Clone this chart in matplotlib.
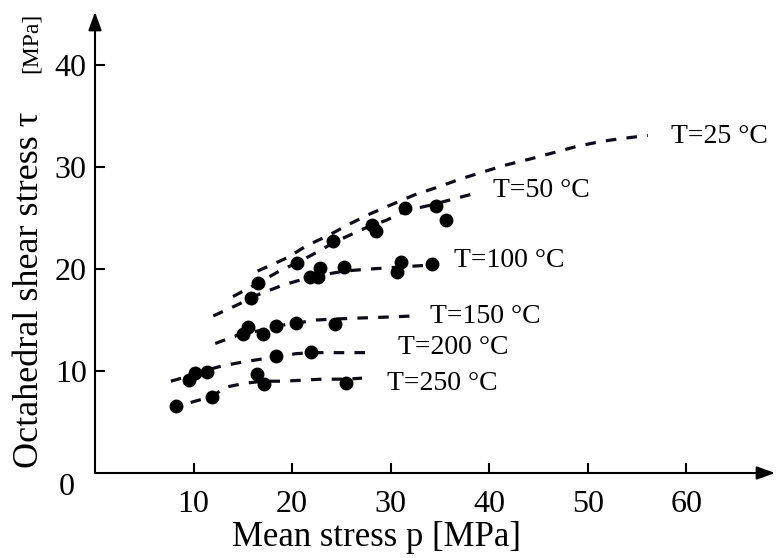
import numpy as np
import matplotlib
matplotlib.use('Agg')
import matplotlib.pyplot as plt

plt.rcParams['font.family'] = ['Liberation Serif', 'DejaVu Serif']

# Courbes en pointillés
x25 = [16.5, 19.5, 21.5, 23.7, 25.8, 27.9, 30.3, 32.5, 35.0, 37.0, 39.3, 41.7, 44.2, 46.5, 48.8, 51.3, 53.5, 56.1]
y25 = [19.8, 21.1, 22.3, 23.3, 24.4, 25.4, 26.4, 27.3, 28.1, 28.8, 29.5, 30.2, 30.8, 31.4, 32.0, 32.5, 32.8, 33.1]
x50 = [14.0, 16.5, 18.9, 20.5, 23.0, 24.2, 27.4, 29.6, 31.5, 34.2, 36.5, 38.9]
y50 = [17.3, 18.6, 19.9, 20.6, 21.9, 22.6, 24.0, 24.8, 25.7, 26.3, 26.9, 27.5]
x100 = [12.0, 14.7, 15.8, 19.0, 21.8, 25.3, 27.9, 31.0, 34.2]
y100 = [15.4, 16.6, 17.2, 18.4, 19.2, 19.8, 20.0, 20.2, 20.4]
x150 = [12.2, 15.0, 17.0, 18.4, 20.4, 22.5, 24.4, 27.0, 30.0, 32.3]
y150 = [12.7, 13.7, 14.0, 14.4, 14.7, 15.0, 15.1, 15.2, 15.3, 15.4]
x200 = [7.7, 9.5, 11.0, 12.9, 15.1, 18.4, 20.4, 22.0, 25.0, 27.6]
y200 = [9.0, 9.5, 10.0, 10.5, 10.9, 11.4, 11.7, 11.8, 11.8, 11.8]
x250 = [7.7, 10.0, 11.9, 13.2, 15.2, 17.1, 19.0, 21.1, 23.0, 25.5, 27.1]
y250 = [6.3, 7.0, 7.5, 8.4, 8.8, 9.0, 9.0, 9.1, 9.2, 9.2, 9.3]

# Points expérimentaux
px50 = [16.5, 20.5, 24.1, 28.1, 28.5, 31.5, 34.6, 35.6]
py50 = [18.6, 20.6, 22.7, 24.3, 23.7, 26.0, 26.2, 24.8]
px100 = [15.8, 21.8, 22.6, 22.8, 25.3, 30.6, 31.0, 34.2]
py100 = [17.2, 19.2, 19.2, 20.1, 20.2, 19.7, 20.7, 20.5]
px150 = [15.0, 15.5, 17.0, 18.4, 20.4, 24.4]
py150 = [13.6, 14.3, 13.6, 14.4, 14.7, 14.6]
px200 = [9.5, 10.1, 11.4, 18.4, 21.9]
py200 = [9.1, 9.8, 9.9, 11.5, 11.9]
px250 = [8.2, 11.9, 16.4, 17.1, 25.5]
py250 = [6.6, 7.5, 9.7, 8.7, 8.8]

labels = ['T=25 °C', 'T=50 °C', 'T=100 °C', 'T=150 °C', 'T=200 °C', 'T=250 °C']
label_pos = [(58.4, 33.0), (40.4, 27.7), (36.4, 20.8), (34.0, 15.3), (30.7, 12.3), (29.6, 8.8)]

xticks = [10, 20, 30, 40, 50, 60]
yticks = [10, 20, 30, 40]

fig = plt.figure(figsize=(7.77, 5.58), dpi=100)
ax = fig.add_axes([95/777, 85/558, 680/777, 461/558])
ax.set_xlim(0, 69.0)
ax.set_ylim(0, 45.2)

line_col = '#0d0d18'
for xs, ys in [(x25, y25), (x50, y50), (x100, y100), (x150, y150), (x200, y200), (x250, y250)]:
    ax.plot(xs, ys, color=line_col, lw=2.3, dashes=(3.3, 3.2), dash_capstyle='butt')

for xs, ys in [(px50, py50), (px100, py100), (px150, py150), (px200, py200), (px250, py250)]:
    ax.plot(xs, ys, 'o', color='black', markersize=9, linestyle='none')

for lab, (lx, ly) in zip(labels, label_pos):
    ax.text(lx, ly, lab, fontsize=20, ha='left', va='center')

# axes avec flèches
for s in ax.spines.values():
    s.set_visible(False)
arrow = dict(arrowstyle='-|>,head_length=0.55,head_width=0.2', color='black', lw=1.5,
             mutation_scale=20, shrinkA=0, shrinkB=0)
ax.annotate('', xy=(1.0, 0), xytext=(0, 0), xycoords='axes fraction', arrowprops=arrow, annotation_clip=False)
ax.annotate('', xy=(0, 1.0), xytext=(0, 0), xycoords='axes fraction', arrowprops=arrow, annotation_clip=False)

ax.set_xticks(xticks)
ax.set_yticks(yticks)
ax.tick_params(direction='in', length=7, width=1.5, labelsize=23)
ax.tick_params(axis='x', pad=12)
ax.tick_params(axis='y', pad=6)
ax.text(-2.9, -1.4, '0', fontsize=23, ha='center', va='center', clip_on=False)

fig.text(0.5 * (232 + 522) / 777, 4 / 558, 'Mean stress p [MPa]', fontsize=25, ha='center', va='bottom')
fig.text(30 / 777, 90 / 558, 'Octahedral shear stress τ', fontsize=26, rotation=90, ha='center', va='bottom')
fig.text(31 / 777, (558 - 73) / 558, '[MPa]', fontsize=17, rotation=90, ha='center', va='bottom')

fig.savefig('out.png', dpi=100)
